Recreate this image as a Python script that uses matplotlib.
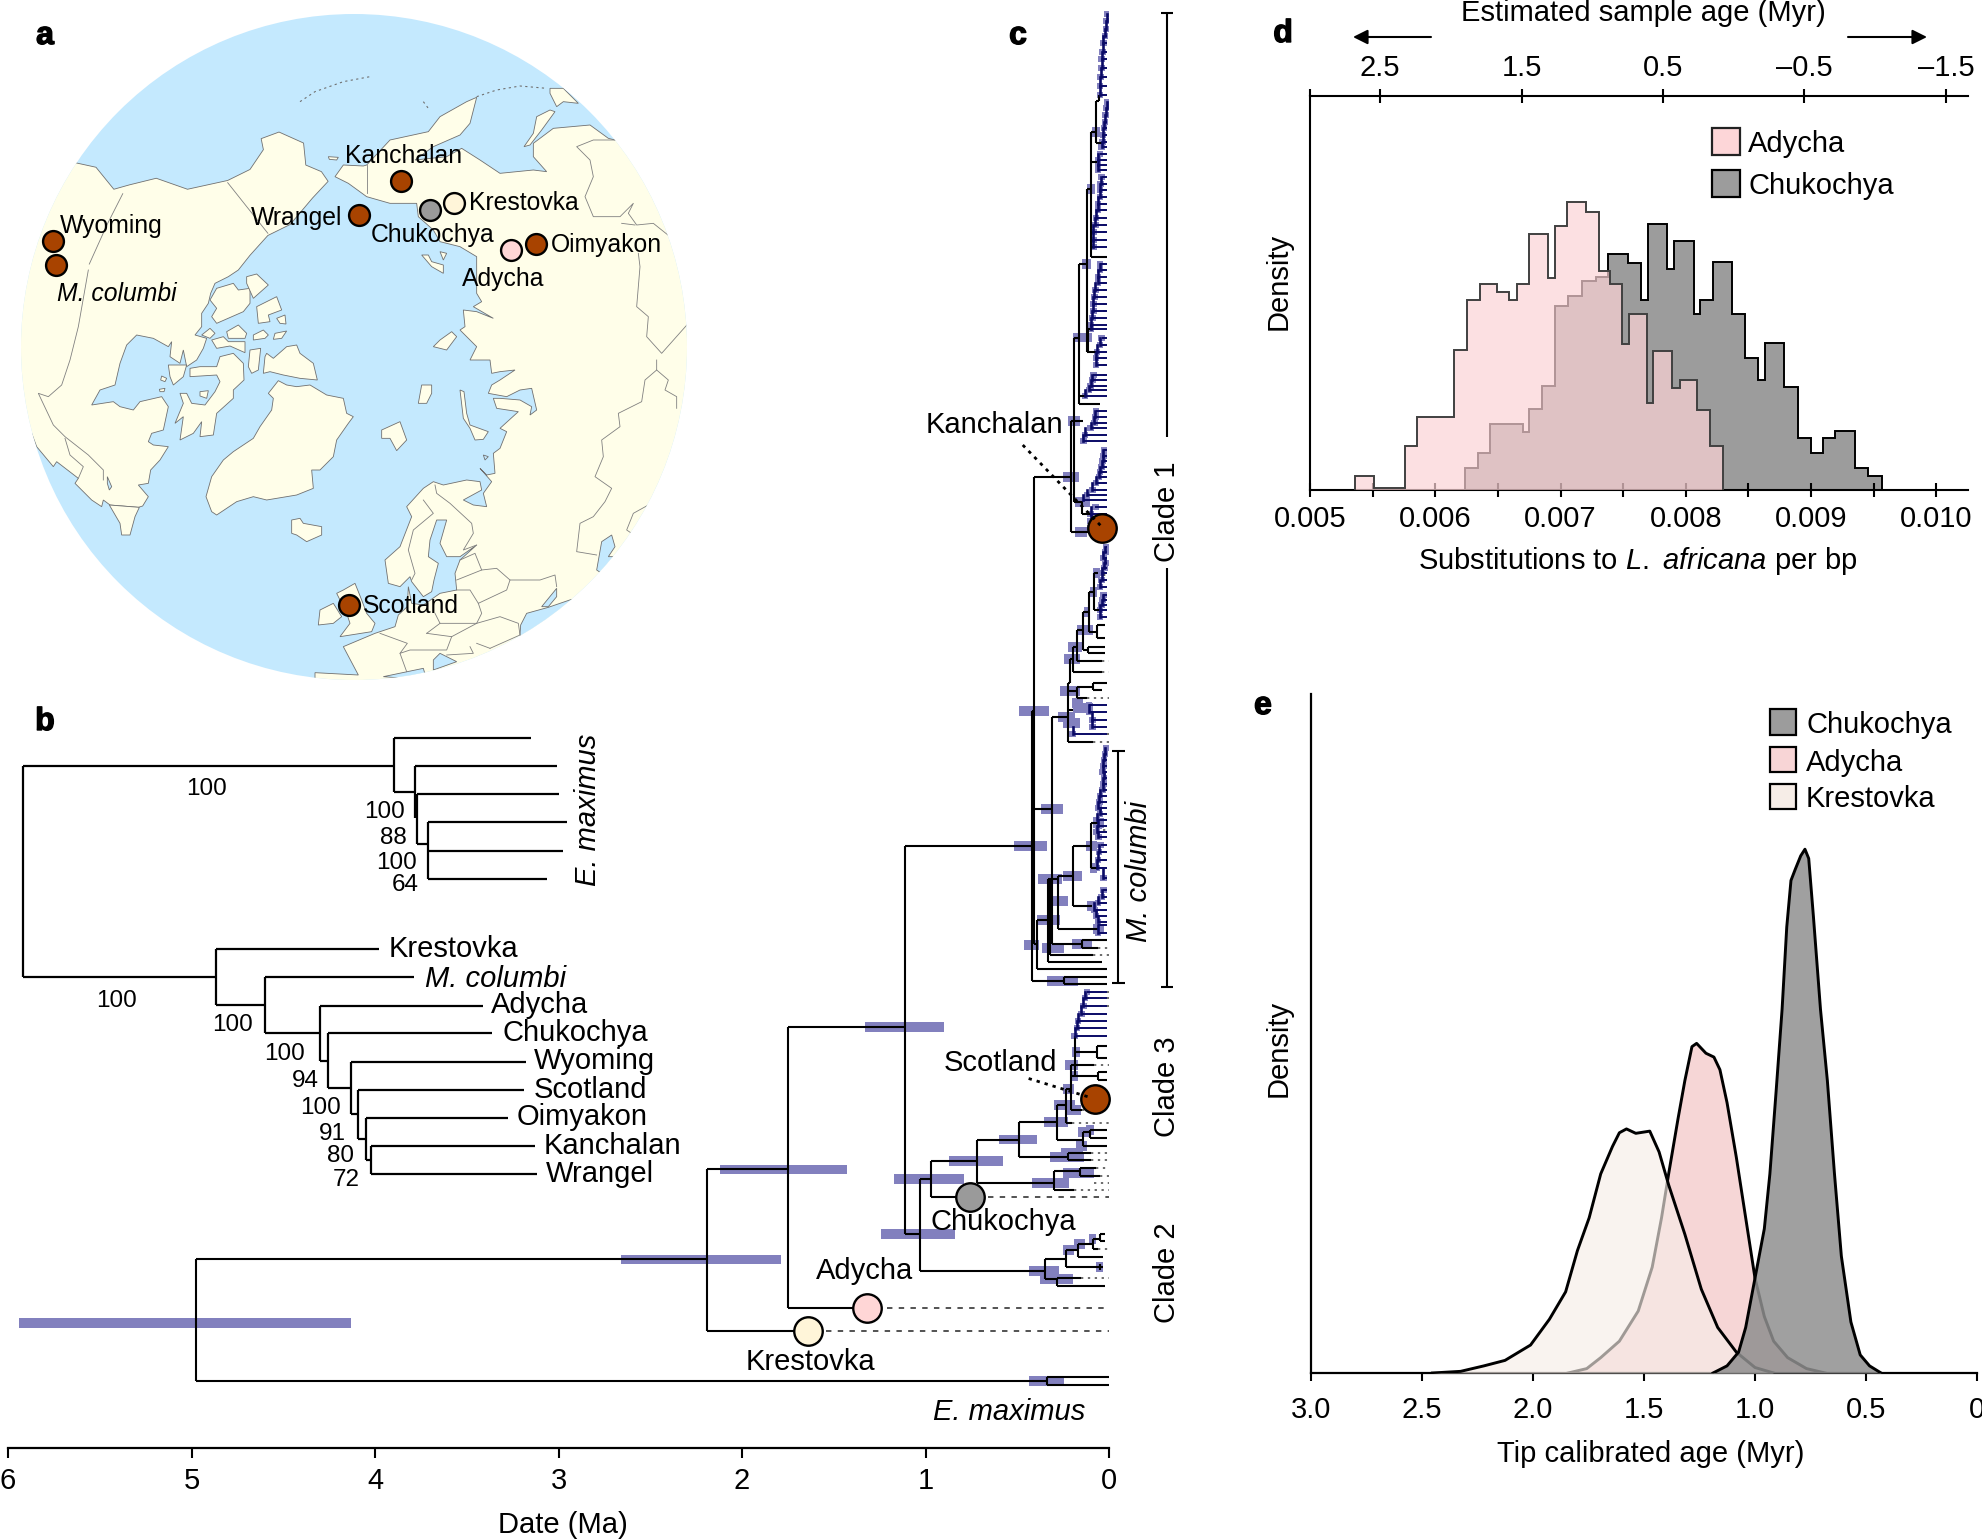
import matplotlib
matplotlib.use('Agg')
import matplotlib.pyplot as plt
import matplotlib.patheffects as pe
from matplotlib.patches import Circle, Polygon, Rectangle

plt.rcParams['font.family'] = ['Liberation Sans', 'DejaVu Sans']
plt.rcParams['mathtext.fontset'] = 'custom'
plt.rcParams['mathtext.rm'] = 'Liberation Sans'
plt.rcParams['mathtext.it'] = 'Liberation Sans:italic'

W, H = 1983, 1540
FS = 21
BROWN, GREY, CREAM, PINK = '#A84300', '#9A9A9A', '#FFF5D9', '#FFD6D6'
HPD = '#8280BE'
NAVY = '#0A0A66'


def crop(points, ox, oy, sx=3.0, sy=3.0):
    return [(ox + p[0] / sx, oy + p[1] / sy) for p in points]


def c1(points):
    return crop(points, 20, 270)


def c2(points):
    return crop(points, 300, 60)


def c3(points):
    return crop(points, 300, 360)


# ---- panel a: map outlines
sea = '#C4E9FE'
land = '#FFFEE9'
alaska = [(0, 370), (170, 370), (215, 380), (255, 430), (290, 420), (350, 405), (420, 430), (510, 410), (560, 385),
          (590, 340), (585, 315), (625, 300), (680, 325), (685, 375), (720, 390), (735, 412), (700, 450),
          (650, 510), (600, 535), (560, 580)]
canada = [(655, 0), (625, 20), (585, 40), (572, 70), (565, 100), (545, 130), (545, 170), (525, 195), (560, 205), (550, 235),
          (530, 270), (500, 290), (490, 240), (480, 280), (450, 260), (455, 215), (445, 230), (400, 205), (350, 195),
          (320, 225), (300, 280), (285, 345), (240, 360), (215, 405), (280, 395), (300, 410), (340, 420), (360, 395),
          (425, 380), (445, 410), (430, 480), (395, 490), (385, 515), (400, 525), (445, 530), (420, 570), (392, 600),
          (385, 640), (355, 645), (385, 680), (368, 708), (355, 712), (270, 705), (250, 690), (245, 710), (215, 690),
          (165, 640), (175, 625), (110, 575), (100, 590), (50, 530), (35, 490), (-60, 490)]
north_america = crop(alaska, 0, 0, 2.24, 2.272) + c1(canada)
baffin = c1([(600, 260), (640, 250), (670, 280), (672, 330), (640, 360), (640, 385), (590, 430), (580, 495), (540, 500),
             (545, 455), (520, 490), (480, 510), (490, 440), (465, 460), (490, 400), (480, 370), (500, 370), (515, 400),
             (555, 405), (585, 365), (600, 335), (590, 315), (510, 320), (510, 295), (540, 290), (590, 290)])
arctic_islands = [[(590, 55), (640, 40), (655, 60), (690, 55), (690, 100), (670, 125), (590, 160), (575, 140), (590, 115), (570, 90)],
                  [(680, 20), (710, 12), (745, 45), (700, 85), (680, 40)],
                  [(710, 110), (770, 80), (785, 120), (745, 135), (750, 155), (715, 160)],
                  [(770, 145), (795, 135), (798, 162), (780, 160)],
                  [(620, 185), (655, 165), (680, 190), (675, 205), (625, 205)],
                  [(575, 210), (610, 200), (625, 215), (675, 215), (675, 248), (630, 228), (590, 235)],
                  [(545, 195), (570, 175), (585, 190), (570, 205)],
                  [(700, 195), (730, 180), (745, 195), (735, 205), (700, 210)],
                  [(765, 190), (800, 183), (785, 205), (760, 208)],
                  [(690, 240), (722, 235), (715, 300), (695, 310), (685, 290)],
                  [(740, 250), (760, 265), (800, 230), (830, 225), (840, 250), (880, 280), (892, 330), (840, 325), (790, 315),
                   (750, 305), (730, 310), (735, 260)],
                  [(445, 285), (500, 285), (490, 320), (460, 345), (450, 320)],
                  [(425, 318), (440, 325), (435, 335), (422, 330)],
                  [(540, 365), (565, 362), (560, 385), (540, 378)],
                  [(418, 358), (435, 355), (432, 365), (420, 365)],
                  [(268, 705), (358, 712), (345, 740), (330, 795), (305, 795), (300, 760)]]
greenland = c1([(775, 332), (800, 345), (830, 350), (870, 345), (920, 375), (970, 385), (980, 430), (1000, 440), (985, 460),
                (950, 510), (940, 560), (900, 600), (875, 600), (880, 655), (830, 675), (740, 690), (700, 680), (650, 695),
                (590, 735), (575, 725), (558, 680), (575, 620), (610, 570), (640, 545), (700, 505), (720, 470), (755, 420),
                (760, 385), (745, 370)])
iceland = c1([(815, 750), (840, 745), (850, 760), (905, 770), (905, 795), (860, 815), (830, 795), (815, 790)])
eurasia_north = [(105, 350), (130, 315), (190, 318), (200, 315), (270, 240), (385, 215), (420, 170), (500, 125), (530, 112),
                 (510, 190), (480, 225), (400, 260), (345, 300), (440, 290), (485, 265), (540, 300), (600, 340), (700, 330),
                 (740, 335), (700, 290), (700, 250), (760, 205), (870, 195), (925, 235), (945, 240), (1300, 240)]
eurasia_arctic = [(105, 350), (145, 370), (200, 410), (270, 430), (350, 430), (355, 470), (400, 510), (420, 545), (480, 560),
                  (530, 590), (530, 700), (545, 725), (520, 740), (580, 775), (530, 755), (490, 750), (495, 800), (480, 810),
                  (530, 860), (510, 900)]
eurasia_west = [(570, 0), (575, 40), (600, 35), (645, 30), (600, 60), (575, 75), (565, 100), (620, 110), (660, 90), (695, 85),
                (710, 150), (690, 165), (695, 140), (660, 120), (600, 115), (580, 115), (590, 145), (655, 155), (600, 205),
                (620, 215), (600, 265), (580, 280), (585, 340), (560, 345), (540, 325), (575, 365), (550, 400), (560, 440),
                (520, 435), (490, 420), (545, 390), (540, 365), (500, 360), (430, 375), (400, 365), (370, 385), (320, 440),
                (335, 470), (300, 560), (255, 600), (265, 670), (300, 680), (330, 650), (335, 665), (370, 710), (395, 695),
                (402, 660), (415, 610), (385, 590), (390, 540), (410, 480), (440, 480), (420, 550), (440, 590), (480, 590),
                (530, 555), (480, 600), (465, 640), (470, 690), (420, 700), (370, 735), (335, 730), (325, 680), (322, 740),
                (295, 765), (285, 800), (225, 820), (130, 860), (175, 945), (45, 938), (45, 1100)]
eurasia = c2(eurasia_north) + [(760, 800)] + c3(eurasia_west)[::-1] + c2(eurasia_arctic)[::-1]
other_islands = [c3([(480, 90), (492, 95), (500, 160), (510, 195), (565, 215), (550, 238), (525, 240), (510, 205), (490, 175)]),
                 c3([(245, 210), (300, 185), (320, 240), (290, 272), (270, 235), (245, 235)]),
                 c3([(355, 130), (365, 75), (395, 75), (395, 100), (380, 130)]),
                 c3([(130, 690), (165, 670), (185, 720), (200, 760), (225, 790), (215, 815), (120, 830), (150, 790), (140, 760), (110, 700)]),
                 c3([(60, 750), (100, 730), (125, 770), (100, 790), (55, 795)]),
                 c2([(400, 860), (420, 840), (455, 815), (470, 830), (440, 870)]),
                 c2([(365, 585), (385, 585), (395, 605), (430, 615), (430, 640), (395, 620)]),
                 c2([(420, 575), (440, 580), (430, 600)]),
                 c2([(672, 260), (700, 220), (710, 170), (750, 150), (765, 155), (725, 210), (690, 255)]),
                 c2([(750, 85), (790, 85), (835, 130), (790, 125), (770, 140), (750, 100)]),
                 c2([(85, 290), (115, 292), (110, 300), (88, 298)])]
inland_seas = [c3([(815, 718), (745, 742), (680, 760), (662, 795), (660, 825), (700, 900), (900, 900)]),
               c3([(725, 740), (770, 685), (770, 710), (745, 740)]),
               c3([(400, 900), (420, 880), (470, 905), (400, 930)]),
               c3([(250, 950), (370, 925), (380, 960)]),
               c3([(890, 630), (905, 545), (935, 525), (945, 560), (925, 590), (945, 590), (905, 640)]),
               c3([(550, 285), (565, 290), (555, 300)]),
               c1([(262, 620), (275, 650), (268, 660), (262, 640)])]
borders = [crop([(275, 440), (240, 510), (200, 600)], 0, 0, 2.24, 2.272),
           c1([(205, 0), (175, 170), (150, 270), (125, 345), (85, 380), (55, 370), (100, 465), (135, 500), (205, 555), (250, 600), (250, 630)]),
           c1([(135, 505), (150, 555), (190, 590), (175, 625)]),
           crop([(510, 415), (600, 530)], 0, 0, 2.24, 2.272),
           c2([(200, 315), (200, 400)]),
           c2([(945, 240), (880, 240), (830, 260), (870, 300), (880, 350), (855, 410), (880, 470), (960, 470), (1000, 430), (985, 460), (1010, 495), (1060, 490), (1110, 530)]),
           c2([(965, 490), (1005, 495)]),
           c2([(1015, 580), (1020, 620), (1010, 740), (1045, 770), (1040, 830), (1085, 880), (1165, 790)]),
           c3([(1070, 0), (1070, 30), (1035, 60), (1025, 125), (955, 160), (960, 200), (905, 240), (910, 290), (885, 350), (935, 385), (915, 425), (880, 470), (840, 490), (830, 575), (890, 585)]),
           c3([(1070, 30), (1105, 60), (1095, 90), (1130, 110), (1130, 145)]),
           c3([(1045, 435), (1000, 460), (980, 510), (995, 520)]),
           c3([(370, 420), (400, 460), (340, 510), (325, 570), (345, 640), (335, 660)]),
           c3([(405, 375), (410, 400), (450, 430), (515, 490), (520, 520), (490, 570), (530, 555)]),
           c3([(480, 600), (525, 580), (545, 630), (470, 660)]),
           c3([(545, 630), (590, 625), (630, 660), (620, 690), (535, 730), (510, 690), (470, 690)]),
           c3([(630, 660), (720, 660), (765, 645), (770, 680)]),
           c3([(535, 730), (545, 760), (530, 790), (420, 790), (405, 760)]),
           c3([(380, 820), (420, 790)]),
           c3([(530, 790), (600, 770), (655, 790), (660, 825), (570, 865)]),
           c3([(530, 850), (570, 865)]),
           c3([(380, 820), (455, 830), (530, 790)]),
           c3([(455, 830), (440, 870), (330, 870), (300, 880), (322, 850), (240, 820)]),
           c3([(300, 880), (320, 935)]),
           c3([(510, 860), (520, 880), (440, 885)])]
island_arcs = [c2([(0, 125), (45, 95), (130, 65), (210, 50)]), c2([(370, 125), (385, 145)]), c2([(530, 110), (590, 90), (660, 78), (740, 85)])]
site_names = ['Wyoming', 'M. columbi', 'Kanchalan', 'Wrangel', 'Chukochya', 'Krestovka', 'Adycha', 'Oimyakon', 'Scotland']
site_x = [52.7, 56.3, 400.9, 359.4, 430.4, 454, 510.7, 536.2, 349.1]
site_y = [241.2, 264.5, 180.5, 214.8, 210.4, 202.5, 250, 243.8, 605.2]
site_col = [BROWN, BROWN, BROWN, BROWN, GREY, CREAM, PINK, BROWN, BROWN]
site_lab_x = [59.4, 57.1, 345.1, 250.9, 370.5, 468.8, 462, 550.4, 363]
site_lab_y = [224.5, 291.8, 154, 215.7, 233.3, 201, 277.3, 243, 604]

# ---- panel b: bootstrap tree
b_h_row = [766, 977, 738, 792, 766, 794, 844, 822, 851, 879, 949, 1005, 977, 1033, 1006, 1061, 1033, 1088, 1062, 1114,
           1090, 1139, 1118, 1160, 1146, 1174]
b_h_from = [23, 23, 394, 394, 415, 417, 417, 428, 428, 428, 216, 216, 265, 265, 320, 320, 328, 328, 351, 351, 358, 358,
            366, 366, 370.5, 370.5]
b_h_to = [394, 216, 531, 415, 557, 559, 428, 567, 563, 547, 378.5, 265, 414, 320, 483, 328, 492, 351, 526, 358, 524, 366,
          508, 370.5, 535, 537]
b_v_x = [23, 394, 415, 417, 428, 216, 265, 320, 328, 351, 358, 366, 370.5]
b_v_top = [766, 738, 766, 794, 822, 949, 977, 1006, 1033, 1062, 1090, 1118, 1146]
b_v_bot = [977, 792, 818, 844, 879, 1005, 1033, 1061, 1088, 1114, 1139, 1160, 1174]
b_names = ['Krestovka', 'Adycha', 'Chukochya', 'Wyoming', 'Scotland', 'Oimyakon', 'Kanchalan', 'Wrangel']
b_name_x = [389, 491, 502, 534, 534, 517, 544, 545.5]
b_name_y = [947, 1003, 1031, 1059, 1088, 1115, 1144, 1172]
support = ['100', '100', '88', '100', '64', '100', '100', '100', '94', '100', '91', '80', '72']
support_x = [206, 385, 393, 396, 405, 117, 233, 284, 305, 320, 332, 340, 346]
support_y = [787, 810, 836, 861, 883, 999, 1023, 1052, 1079, 1106, 1132, 1154, 1178]

# ---- panel c: dated tree, ages in Ma, rows top to bottom
c_h = [(1259, 4.975, 2.19), (1381, 4.975, .338), (1377, .338, 0), (1385, .338, 0), (1169, 2.19, 1.75), (1331, 2.19, 1.64),
       (1027, 1.75, 1.11), (1308, 1.75, 1.32), (846, 1.11, .421), (1234, 1.11, 1.03), (1179, 1.03, .97), (1271, 1.03, .35),
       (1197, .97, .76), (1161, .97, .72), (1183, .72, .30), (1139.5, .72, .49), (1122, .49, .286), (1157, .49, .225),
       (1105, .286, .235), (1140, .286, .142), (1123, .235, .2), (1089, .235, .207),
       (981, .421, .245), (977, .245, .01), (984, .245, .01), (711, .421, .407), (809, .407, .312), (944, .407, .39),
       (969, .39, .013), (920, .39, .331), (962, .331, .04), (955, .322, .085), (879, .331, .28), (944, .312, .149),
       (717, .312, .225), (876, .28, .194), (929, .28, .06), (846, .194, .098), (906, .194, .095), (823, .098, .058),
       (868, .098, .067), (940, .149, .013), (948, .149, .06), (742, .225, .085), (691, .225, .176), (687, .176, .085),
       (683, .085, .013), (690, .085, .04), (698, .176, .12), (710, .225, .198), (683, .225, .213), (659, .213, .198),
       (672, .198, .04), (647, .198, .176), (661, .176, .04), (630, .176, .14), (650, .14, .113), (647, .113, .02),
       (653, .113, .02), (612, .14, .107), (632, .107, .067), (625, .067, .02), (638, .067, .02), (592, .107, .08),
       (610, .08, .05), (573, .08, .058), (101, .073, .053), (143, .073, .04), (132, .098, .073), (189, .122, .098),
       (162, .098, .065), (247, .098, .085), (257, .098, .013), (264, .163, .122), (329, .113, .1), (352, .122, .065),
       (404, .163, .05), (396, .163, .13), (337.5, .189, .163), (421, .207, .14), (477, .407, .207), (502, .189, .14),
       (514, .149, .1), (532, .207, .1),
       (1052, .188, .063), (1046, .063, .01), (1058, .063, .01), (1065, .209, .08), (1076, .207, .06), (1072, .06, .01),
       (1080, .06, .01), (1110, .207, .146), (1132, .142, .104), (1130, .104, .01), (1138, .104, .01), (1146, .142, .01),
       (1153, .225, .1), (1160, .225, .1), (1190, .3, .19), (1171, .3, .156), (1168, .156, .07), (1176, .156, .05),
       (1279, .35, .286), (1278, .286, .15), (1286, .286, .02), (1258.6, .35, .235), (1267, .235, .03), (1250, .235, .167),
       (1256.5, .167, .03), (1244, .167, .088), (1248.6, .088, .06), (1239, .088, .05), (1234, .05, .02), (1241, .05, .02)]
c_v = [(4.975, 1259, 1381), (2.19, 1169, 1331), (1.75, 1027, 1308), (1.11, 846, 1234), (1.03, 1179, 1271), (.97, 1161, 1197),
       (.72, 1139.5, 1183), (.49, 1122, 1157), (.286, 1105, 1140), (.235, 1089, 1123), (.338, 1377, 1385), (.421, 711, 981),
       (.245, 977, 984), (.407, 477, 944), (.39, 920, 969), (.331, 879, 962), (.322, 879, 955), (.312, 717, 944),
       (.28, 876, 929), (.194, 846, 906), (.098, 823, 868), (.149, 940, 948), (.225, 683, 742), (.176, 687, 698),
       (.085, 683, 690), (.213, 659, 683), (.198, 647, 672), (.176, 630, 661), (.14, 612, 650), (.113, 647, 653),
       (.107, 592, 632), (.067, 625, 638), (.08, 573, 610), (.053, 95, 101), (.073, 101, 143), (.098, 132, 257),
       (.122, 189, 352), (.113, 329, 352), (.163, 264, 404), (.189, 337.5, 502), (.207, 421, 532), (.149, 502, 514),
       (.188, 1036, 1076), (.063, 1046, 1058), (.207, 1065, 1110), (.06, 1072, 1080), (.142, 1132, 1146), (.104, 1130, 1138),
       (.225, 1153, 1160), (.30, 1171, 1190), (.156, 1168, 1176), (.35, 1258.6, 1279), (.286, 1278, 1286), (.235, 1250, 1267),
       (.167, 1244, 1256.5), (.088, 1239, 1248.6), (.05, 1234, 1241), (.05, 1264, 1270)]
c_hpd = [(1323, 5.94, 4.13), (1259.5, 2.66, 1.79), (1169.5, 2.12, 1.43), (1027, 1.33, .90), (846, .516, .34), (711, .49, .325),
         (1179, 1.17, .79), (1234, 1.24, .84), (1161, .87, .58), (1139.5, .60, .39), (1122, .355, .225), (1157, .319, .136),
         (1105, .298, .188), (1183, .417, .219), (1173, .25, .083), (1271, .438, .271), (1279, .375, .198), (1381, .438, .246),
         (809, .372, .252), (879, .387, .258), (901, .34, .222), (920, .394, .267), (945, .463, .38), (948, .367, .243),
         (876, .249, .147), (981, .34, .167), (944, .203, .091), (846, .125, .067), (906, .122, .067), (929, .085, .027),
         (868, .104, .064), (823, .085, .027), (659, .243, .158), (647, .222, .149), (630, .176, .085), (612, .136, .104),
         (592, .104, .067), (573, .085, .049), (691, .267, .158), (717, .276, .185), (723, .249, .158), (708, .194, .085),
         (703, .203, .14), (477, .249, .163), (337.5, .194, .094), (421, .222, .158), (532, .185, .122), (189, .122, .076),
         (264, .149, .1), (132, .094, .049), (502, .185, .104), (1089, .25, .19), (1065, .24, .17), (1052, .2, .16),
         (1110, .23, .15), (1132, .17, .11), (1146, .18, .12), (1130, .125, .08), (1153, .26, .14), (1250, .25, .19),
         (1244, .19, .13), (1239, .11, .07), (1267, .07, .03), (1076, .21, .17)]
ladder_rows = [[14, 21, 29, 36, 43, 52, 59, 68, 77, 86, 95],
               [102, 108, 115, 122, 128, 135, 142, 147],
               [154, 160, 165, 170],
               [177, 184, 190, 197, 204, 210, 218, 225, 232, 240, 247],
               [264, 270, 277, 283, 290, 297, 304, 311, 318, 325, 329],
               [338, 345, 352, 358, 365],
               [375, 380, 386, 390, 396],
               [411, 417, 423, 428, 435, 441],
               [450, 456, 461, 467, 472, 477, 483, 490, 495, 500],
               [507, 514, 521, 528],
               [547, 552, 558, 563, 568, 573, 580, 587],
               [595, 600, 605, 610, 617],
               [705, 712, 720, 727, 734],
               [748, 754, 760, 766, 772, 778, 784, 790, 796, 802, 808, 814, 820, 826, 832, 837],
               [845, 852, 860, 868, 878],
               [890, 897, 903, 910, 916, 922],
               [925, 933],
               [992, 998, 1006, 1014, 1021, 1028, 1036]]
ladder_ages = [[.009, .013, .016, .022, .031, .035, .04, .04, .045, .049, .049],
               [.009, .013, .018, .022, .027, .033, .035, .04],
               [.05, .06, .06, .06],
               [.04, .045, .05, .05, .06, .06, .07, .075, .085, .085, .085],
               [.05, .05, .06, .06, .075, .08, .085, .085, .09, .1, .1],
               [.04, .05, .065, .07, .07],
               [.085, .09, .1, .11, .13],
               [.07, .075, .08, .1, .13, .14],
               [.027, .03, .035, .04, .05, .055, .07, .09, .12, .14],
               [.075, .1, .1, .1],
               [.015, .02, .03, .02, .025, .04, .04, .05],
               [.03, .035, .04, .05, .05],
               [.11, .11, .09, .09, .198],
               [.013, .022, .027, .03, .035, .027, .03, .035, .05, .053, .058, .05, .067, .058, .067, .058],
               [.045, .055, .06, .067, .03],
               [.03, .04, .06, .08, .07, .06],
               [.06, .06],
               [.12, .13, .14, .15, .17, .175, .188]]
tail_rows = [1190, 1183, 1168, 1176, 1153, 1160, 1278, 1248.6, 1123, 1065, 1110, 1006, 998, 992, 955, 948, 742, 698, 672, 661,
             734, 154, 160, 165, 170, 177, 184, 190, 197, 204, 210, 218, 225, 232, 240, 264, 270, 277, 283, 290, 297, 304,
             311, 338, 345, 358, 365, 375, 380, 386, 450, 456, 461, 467, 472, 477, 483, 490, 495, 500, 567, 575, 820, 830,
             845, 852, 860, 890, 897, 903]
tail_from = [.19, .08, .07, .05, .1, .1, .15, .06, .2, .08, .146, .05, .05, .05, .085, .06, .085, .12, .04, .04,
             .05, .03, .03, .03, .03, .03, .03, .03, .03, .03, .03, .03, .03, .03, .03, .03, .03, .03, .03, .03, .03, .03,
             .03, .03, .03, .03, .03, .03, .03, .03, .03, .03, .03, .03, .03, .03, .03, .03, .03, .03, .03, .03, .03, .03,
             .03, .03, .03, .03, .03, .03]
dashed_rows = [1331, 1308, 1197]
dashed_from = [1.54, 1.21, .66]
node_names = ['Krestovka', 'Adycha', 'Chukochya', 'Kanchalan', 'Scotland']
node_age = [1.64, 1.32, .76, .04, .075]
node_row = [1331, 1308, 1197, 528, 1099]
node_col = [CREAM, PINK, GREY, BROWN, BROWN]
node_lab_x = [810.5, 865, 1003, 994.7, 1000.7]
node_lab_y = [1360, 1268.6, 1220, 423, 1061]
date_ticks = [6, 5, 4, 3, 2, 1, 0]

# ---- panel d: histograms
ady_edges = [.005358, .005507, .005757, .005854, .006152, .006257, .006357, .006491, .006592, .006652, .006749, .006898,
             .006954, .007051, .0072, .007304, .007394, .007494, .007543, .007692, .00774, .007889, .007953, .008091,
             .008195, .008296]
ady_heights = [37, 5, 115, 192, 370, 505, 545, 524, 505, 545, 680, 562, 701, 765, 737, 582, 545, 387, 467, 230, 369, 270,
               290, 211, 115]
chu_edges = [.006234, .006339, .006439, .006704, .006752, .006853, .006954, .007058, .00717, .007282, .007383, .007535,
             .007644, .007699, .007849, .007905, .008065, .00811, .008214, .008371, .008475, .008579, .008635, .008785,
             .008893, .008997, .009094, .009195, .009355, .009456, .009568]
chu_heights = [57, 96, 174, 154, 214, 274, 487, 515, 555, 565, 625, 602, 505, 705, 586, 661, 467, 505, 604, 467, 350, 290,
               389, 272, 136, 96, 136, 155, 57, 37]
subst_ticks = [.005, .006, .007, .008, .009, .010]
subst_minor = [.0055, .0065, .0075, .0085, .0095]
sample_age_ticks = [2.5, 1.5, 0.5, -0.5, -1.5]
sample_age_labels = ['2.5', '1.5', '0.5', '–0.5', '–1.5']

# ---- panel e: densities
chu_age = [1.189, 1.126, 1.074, 1.042, 1.0, .958, .933, .905, .878, .857, .838, .819, .794, .775, .758, .737, .705, .674,
           .642, .611, .568, .526, .484, .432]
chu_dens = [0, 13, 38, 83, 173, 263, 363, 513, 663, 813, 898, 918, 943, 955, 938, 833, 663, 533, 363, 213, 93, 33, 13, 0]
ady_age = [1.842, 1.758, 1.695, 1.611, 1.526, 1.463, 1.421, 1.389, 1.347, 1.316, 1.284, 1.263, 1.221, 1.185, 1.158, 1.126,
           1.084, 1.042, 1.0, .958, .916, .853, .768, .684]
ady_dens = [0, 8, 28, 58, 113, 193, 283, 363, 463, 533, 595, 601, 583, 576, 553, 493, 393, 283, 173, 103, 58, 28, 8, 0]
kre_age = [2.453, 2.326, 2.221, 2.126, 2.011, 1.926, 1.853, 1.8, 1.747, 1.695, 1.642, 1.611, 1.579, 1.537, 1.474, 1.432,
           1.389, 1.316, 1.242, 1.168, 1.084, 1.0, .916]
kre_dens = [0, 3, 13, 23, 51, 98, 148, 223, 283, 363, 413, 438, 445, 437, 441, 403, 343, 253, 153, 83, 38, 10, 0]
tip_ticks = [3, 2.5, 2, 1.5, 1, .5, 0]
tip_labels = ['3.0', '2.5', '2.0', '1.5', '1.0', '0.5', '0']


def px_axes(l, t, r, b):
    return fig.add_axes([l / W, 1 - b / H, (r - l) / W, (b - t) / H])


fig = plt.figure(figsize=(W / 100, H / 100), dpi=100)

# full page layer for labels and panel b
page = px_axes(0, 0, W, H)
page.set_xlim(0, W)
page.set_ylim(H, 0)
page.axis('off')
page.patch.set_alpha(0)
page.set_zorder(5)


def label(x, y, s, size=FS, **kw):
    kw.setdefault('ha', 'center')
    kw.setdefault('va', 'center')
    # the centre of a matplotlib text box sits a little above the ink
    if kw.get('rotation') == 90:
        x = x + 2
    else:
        y = y + 2
    return page.text(x, y, s, fontsize=size, color='black', **kw)


# a
m = px_axes(0, 0, 700, 690)
m.set_xlim(0, 700)
m.set_ylim(690, 0)
m.axis('off')
disc = Circle((354, 347), 333, fc=sea, ec='none', zorder=0)
m.add_patch(disc)
shapes = [north_america, eurasia, baffin, greenland, iceland] + [c1(s) for s in arctic_islands] + other_islands
for s in shapes:
    p = Polygon(s, closed=True, fc=land, ec='#707070', lw=0.6, zorder=1)
    m.add_patch(p)
    p.set_clip_path(disc)
for s in inland_seas:
    p = Polygon(s, closed=True, fc=sea, ec='#707070', lw=0.6, zorder=2)
    m.add_patch(p)
    p.set_clip_path(disc)
for s in borders:
    l, = m.plot([q[0] for q in s], [q[1] for q in s], color='#808080', lw=0.6, zorder=3)
    l.set_clip_path(disc)
for s in island_arcs:
    l, = m.plot([q[0] for q in s], [q[1] for q in s], color='#707070', lw=0.8, ls=(0, (2, 3)), zorder=3)
    l.set_clip_path(disc)
for x, y, c in zip(site_x, site_y, site_col):
    m.plot(x, y, 'o', ms=15, mfc=c, mec='black', mew=1.7, zorder=4)
for name, x, y in zip(site_names, site_lab_x, site_lab_y):
    label(x, y, name, size=17.8, ha='left', style='italic' if name.startswith('M.') else 'normal')

# b
page.hlines(b_h_row, b_h_from, b_h_to, color='black', lw=1.6)
page.vlines(b_v_x, b_v_top, b_v_bot, color='black', lw=1.6)
for name, x, y in zip(b_names, b_name_x, b_name_y):
    label(x, y, name, ha='left')
label(425, 977, 'M. columbi', ha='left', style='italic')
label(586, 810, 'E. maximus', style='italic', rotation=90)
for s, x, y in zip(support, support_x, support_y):
    label(x, y, s, size=17.5)

# c
t = px_axes(8, 0, 1109, 1448)
t.set_xlim(6, 0)
t.set_ylim(1448, 0)
t.patch.set_alpha(0)
t.set_zorder(2)
for side in ['top', 'left', 'right']:
    t.spines[side].set_visible(False)
t.spines['bottom'].set_linewidth(1.6)
t.set_yticks([])
t.set_xticks(date_ticks)
t.set_xticklabels([str(v) for v in date_ticks])
t.tick_params(axis='x', length=7.2, width=1.5, pad=6.5, labelsize=FS)
for row, old, young in c_hpd:
    t.barh(row, old - young, left=young, height=9.5, color=HPD, zorder=1)
for rows, ages in zip(ladder_rows, ladder_ages):
    t.barh(rows, [.036] * len(rows), left=[a - .018 for a in ages], height=6.5, color=HPD, zorder=1)
t.hlines([h[0] for h in c_h], [h[1] for h in c_h], [h[2] for h in c_h], color='black', lw=1.5, zorder=3)
t.vlines([v[0] for v in c_v], [v[1] for v in c_v], [v[2] for v in c_v], color='black', lw=1.5, zorder=3)
for rows, ages in zip(ladder_rows, ladder_ages):
    t.hlines(rows, ages, [.012] * len(rows), color=NAVY, lw=1.4, zorder=3)
    for i in range(len(rows) - 1):
        t.plot([ages[i + 1], ages[i + 1]], [rows[i], rows[i + 1]], color=NAVY, lw=1.9, zorder=3)
t.hlines(tail_rows, tail_from, [0] * len(tail_rows), color='#444444', lw=1.1, linestyles=(0, (1.5, 3)), zorder=2)
t.hlines(dashed_rows, dashed_from, [0] * len(dashed_rows), color='#444444', lw=1.3, linestyles=(0, (3, 3.5)), zorder=2)
t.plot([0, .002], [1413, 1413], color='#444444', lw=1, zorder=2)
for a, r, c in zip(node_age, node_row, node_col):
    t.plot(a, r, 'o', ms=20.5, mfc=c, mec='black', mew=1.7, zorder=6, clip_on=False)
t.plot([.47, .038], [445, 527], color='black', lw=2, ls=(0, (1.2, 1.8)), zorder=7)
t.plot([.438, .093], [1078.5, 1098], color='black', lw=2, ls=(0, (1.2, 1.8)), zorder=7)
for name, x, y in zip(node_names, node_lab_x, node_lab_y):
    label(x, y, name)
label(1009.5, 1410, 'E. maximus', style='italic')
label(563, 1523, 'Date (Ma)')

# clade bars
page.vlines([1167, 1167, 1118], [12.5, 568, 751], [437, 987, 983], color='black', lw=1.5)
page.hlines([12.5, 987, 751, 983], [1161, 1161, 1112, 1112], [1173, 1173, 1125, 1125], color='black', lw=1.5)
label(1165, 512, 'Clade 1', rotation=90)
label(1165, 1087, 'Clade 3', rotation=90)
label(1165, 1273, 'Clade 2', rotation=90)
label(1137, 871, 'M. columbi', rotation=90, style='italic')

# d
d = px_axes(1310, 96, 1967.6, 489.5)
d.set_xlim(.005, .01025)
d.set_ylim(0, 1046)
d.stairs(chu_heights, chu_edges, fill=True, color='#9C9C9C', zorder=1)
d.stairs(chu_heights, chu_edges, color='black', lw=1.4, zorder=2)
d.stairs(ady_heights, ady_edges, fill=True, color='#FCD3D6', alpha=.7, zorder=3)
d.stairs(ady_heights, ady_edges, color='#404040', lw=1.4, zorder=4)
for side in ['top', 'right']:
    d.spines[side].set_visible(False)
d.spines['left'].set_linewidth(1.5)
d.spines['bottom'].set_linewidth(1.5)
d.set_yticks([])
d.set_xticks(subst_ticks)
d.set_xticklabels(['%.3f' % v for v in subst_ticks])
d.set_xticks(subst_minor, minor=True)
d.tick_params(axis='x', which='both', direction='inout', length=10, width=1.5, pad=6, labelsize=FS)
d2 = d.twiny()
d2.set_xlim(2.995, -1.653)
for side in ['bottom', 'left', 'right']:
    d2.spines[side].set_visible(False)
d2.spines['top'].set_linewidth(1.5)
d2.set_xticks(sample_age_ticks)
d2.set_xticklabels(sample_age_labels)
d2.tick_params(axis='x', direction='inout', length=10, width=1.5, pad=5, labelsize=FS)
page.vlines(1310, 89, 96, color='black', lw=1.5)
label(1643, 11, 'Estimated sample age (Myr)')
label(1276.6, 281, 'Density', rotation=90)
label(1638, 559, 'Substitutions to $\\mathit{L.}$ $\\mathit{africana}$ per bp')
for x0, x1 in [(1431, 1353), (1848, 1927)]:
    page.annotate('', xy=(x1, 37), xytext=(x0, 37),
                  arrowprops=dict(arrowstyle='-|>', color='black', lw=1.5, mutation_scale=22, shrinkA=0, shrinkB=0))
page.add_patch(Rectangle((1712, 128), 28, 27, fc='#FDD6D8', ec='#222222', lw=1.6))
page.add_patch(Rectangle((1712, 170), 28, 27, fc='#9C9C9C', ec='black', lw=1.6))
label(1748, 142, 'Adycha', ha='left')
label(1748, 184, 'Chukochya', ha='left')

# e
e = px_axes(1311, 694, 1977, 1373)
e.set_xlim(3, 0)
e.set_ylim(0, 1238)
e.fill_between(ady_age, ady_dens, color='#F6D6D6', lw=0, zorder=1)
e.plot(ady_age, ady_dens, color='black', lw=2.1, zorder=2)
e.fill_between(kre_age, kre_dens, color='#F6EDE7', alpha=.65, lw=0, zorder=3)
e.plot(kre_age, kre_dens, color='black', lw=2.1, zorder=4)
e.fill_between(chu_age, chu_dens, color='#8F8F8F', alpha=.85, lw=0, zorder=5)
e.plot(chu_age, chu_dens, color='black', lw=2.1, zorder=6)
for side in ['top', 'right']:
    e.spines[side].set_visible(False)
e.spines['left'].set_linewidth(1.6)
e.spines['bottom'].set_linewidth(1.6)
e.set_yticks([])
e.set_xticks(tip_ticks)
e.set_xticklabels(tip_labels)
e.tick_params(axis='x', length=5.8, width=1.5, pad=11, labelsize=FS)
label(1276.6, 1048.6, 'Density', rotation=90)
label(1651, 1452, 'Tip calibrated age (Myr)')
page.add_patch(Rectangle((1770, 709), 26, 26, fc='#9C9C9C', ec='black', lw=1.6))
page.add_patch(Rectangle((1770, 747), 26, 25, fc='#F8D5D6', ec='black', lw=1.6))
page.add_patch(Rectangle((1770, 784), 26, 25, fc='#F6EDE7', ec='black', lw=1.6))
label(1806, 723, 'Chukochya', ha='left')
label(1806, 760.6, 'Adycha', ha='left')
label(1806, 797, 'Krestovka', ha='left')

# panel letters
for s, x, y in [('a', 45, 34), ('b', 45, 720), ('c', 1018, 34), ('d', 1283, 32), ('e', 1263, 704)]:
    txt = label(x, y, s, size=23, weight='bold')
    txt.set_path_effects([pe.withStroke(linewidth=1.0, foreground='black')])

fig.savefig('out.png', dpi=100)
